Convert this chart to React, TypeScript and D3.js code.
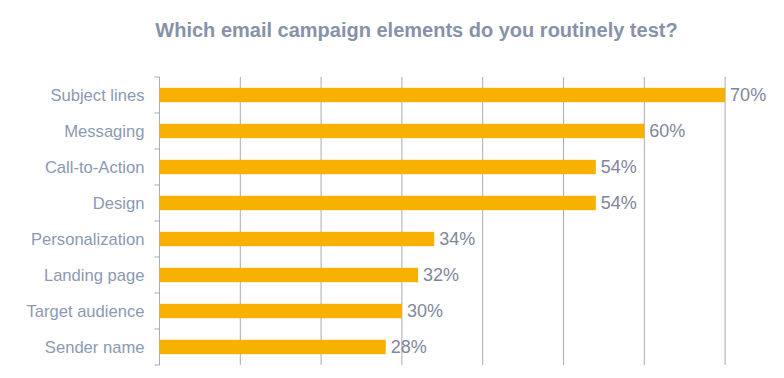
import React from "react";
import * as d3 from "d3";

const categories = [
  "Subject lines",
  "Messaging",
  "Call-to-Action",
  "Design",
  "Personalization",
  "Landing page",
  "Target audience",
  "Sender name",
];
const values = [70, 60, 54, 54, 34, 32, 30, 28];
const gridTicks = [0, 10, 20, 30, 40, 50, 60, 70];
const title = "Which email campaign elements do you routinely test?";

const W = 784;
const H = 378;
const left = 159.5;
const top = 77;
const bottom = 365;

export default function App() {
  const x = d3.scaleLinear().domain([0, 70]).range([left, left + 7 * 80.8]);
  const y = d3.scaleBand<string>().domain(categories).range([top, bottom]).paddingInner(0.6).paddingOuter(0.3);
  const yb = d3.scaleBand<string>().domain(categories).range([top, bottom]);
  const font = "'Liberation Sans', Arial, sans-serif";
  const boundaries = [...categories.map((c) => yb(c) as number), bottom];

  return (
    <svg width={W} height={H} style={{ position: "absolute", left: 0, top: 0, background: "#fff" }} fontFamily={font}>
      <text x={416.5} y={37} textAnchor="middle" fontSize={20} fontWeight="bold" fill="#8792a8">
        {title}
      </text>
      {gridTicks.map((t) => (
        <line key={t} x1={x(t)} x2={x(t)} y1={top} y2={bottom} stroke="#a9abb8" strokeWidth={1} />
      ))}
      {boundaries.map((b, i) => (
        <line key={i} x1={x(0) - 5} x2={x(0)} y1={b} y2={b} stroke="#a9abb8" strokeWidth={1} />
      ))}
      {categories.map((c, i) => (
        <g key={c}>
          <rect x={x(0)} y={y(c)} width={x(values[i]) - x(0)} height={y.bandwidth()} fill="#F8B100" />
          <text
            x={144.5}
            y={(yb(c) as number) + yb.bandwidth() / 2}
            dy="0.35em"
            textAnchor="end"
            fontSize={16.6}
            fill="#8b99b2"
          >
            {c}
          </text>
          <text
            x={x(values[i]) + 5}
            y={(yb(c) as number) + yb.bandwidth() / 2}
            dy="0.36em"
            fontSize={18}
            fill="#80869a"
          >
            {values[i]}%
          </text>
        </g>
      ))}
    </svg>
  );
}
